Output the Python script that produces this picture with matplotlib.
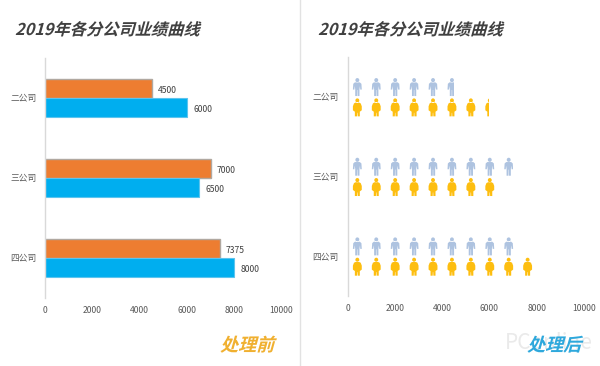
import matplotlib
matplotlib.use("Agg")
import math
import matplotlib.pyplot as plt
import matplotlib.patheffects as pe
from matplotlib.patches import PathPatch, Rectangle
from matplotlib.path import Path
from matplotlib.transforms import Affine2D

plt.rcParams['font.family'] = ['Noto Sans CJK SC', 'DejaVu Sans']

categories = ['二公司', '三公司', '四公司']
series_top = [4500, 7000, 7375]
series_bottom = [6000, 6500, 8000]
x_ticks = [0, 2000, 4000, 6000, 8000, 10000]
title_text = '2019年各分公司业绩曲线'
caption_left = '处理前'
caption_right = '处理后'
watermark = 'PConline'

W, H = 600, 366
ICON_UNIT = 800
ICON_W = 375
BAR_H = 0.235
TXT = '#595959'


class Skew(pe.AbstractPathEffect):
    def __init__(self, slant=0.28):
        super().__init__()
        self.slant = slant

    def draw_path(self, renderer, gc, tpath, affine, rgbFace):
        y0 = affine.to_values()[5]
        sk = Affine2D.from_values(1, 0, self.slant, 1, -self.slant * y0, 0)
        renderer.draw_path(gc, tpath, affine + sk, rgbFace)


def axes_px(x0, x1, y0, y1):
    return fig.add_axes([x0 / W, 1 - y1 / H, (x1 - x0) / W, (y1 - y0) / H])


def person(fat):
    unit = Path.unit_circle()
    head = Path(unit.vertices * [0.22, 0.115] + [0, 0.885], unit.codes)
    if fat:
        body = [(-0.28, 0), (-0.28, 0.26), (-0.40, 0.30), (-0.50, 0.34), (-0.50, 0.56),
                (-0.38, 0.72), (-0.18, 0.77), (0.18, 0.77), (0.38, 0.72), (0.50, 0.56),
                (0.50, 0.34), (0.40, 0.30), (0.28, 0.26), (0.28, 0), (0.04, 0),
                (0.02, 0.20), (-0.02, 0.20), (-0.04, 0), (-0.28, 0)]
    else:
        body = [(-0.24, 0), (-0.24, 0.38), (-0.30, 0.56), (-0.33, 0.36), (-0.50, 0.36),
                (-0.46, 0.68), (-0.28, 0.76), (0.28, 0.76), (0.46, 0.68), (0.50, 0.36),
                (0.33, 0.36), (0.30, 0.56), (0.24, 0.38), (0.24, 0), (0.03, 0),
                (0.02, 0.34), (-0.02, 0.34), (-0.03, 0), (-0.24, 0)]
    return Path.make_compound_path(head, Path(body, closed=True))


def style(ax, ytick_pad, xtick_pad):
    ax.set_xlim(0, 10000)
    ax.set_ylim(2.5, -0.5)
    ax.set_xticks(x_ticks)
    ax.set_yticks(range(len(categories)), categories)
    for s in ['top', 'right', 'bottom']:
        ax.spines[s].set_visible(False)
    ax.spines['left'].set_color('#D9D9D9')
    ax.spines['left'].set_linewidth(1.0)
    ax.tick_params(axis='x', length=0, labelsize=6.2, labelcolor=TXT, pad=xtick_pad)
    ax.tick_params(axis='y', length=0, labelsize=6.3, labelcolor=TXT, pad=ytick_pad)


def pictogram(ax, pos, value, color, fat, upper):
    clip = Rectangle((0, pos - BAR_H - 0.02), value, 2 * BAR_H + 0.04, transform=ax.transData)
    shape = person(fat)
    # feet of the upper row sit just above the category centre, the lower row one row below
    feet = pos - 0.01 if upper else pos + BAR_H + 0.01
    for i in range(math.ceil(value / ICON_UNIT)):
        cx = (i + 0.52) * ICON_UNIT
        tr = Affine2D().scale(ICON_W, -BAR_H * 0.96).translate(cx, feet) + ax.transData
        p = PathPatch(shape, facecolor=color, edgecolor='none', transform=tr)
        ax.add_patch(p)
        p.set_clip_path(clip)


fig = plt.figure(figsize=(W / 100, H / 100), dpi=100, facecolor='white')

# left panel
a1 = axes_px(45.3, 281.6, 58, 298)
style(a1, 6.5, 5.5)
positions = list(range(len(categories)))
a1.barh([p - BAR_H / 2 for p in positions], series_top, height=BAR_H, color='#ED7D31',
        edgecolor='#B0A8A0', linewidth=1.0)
a1.barh([p + BAR_H / 2 for p in positions], series_bottom, height=BAR_H, color='#00AEEF',
        edgecolor='#5CC4EE', linewidth=0.8)
for p, a, b in zip(positions, series_top, series_bottom):
    a1.annotate(str(a), (a, p - BAR_H / 2), xytext=(4.5, -1.2), textcoords='offset points',
                va='center', ha='left', fontsize=6.2, color='#404040')
    a1.annotate(str(b), (b, p + BAR_H / 2), xytext=(4.5, -1.2), textcoords='offset points',
                va='center', ha='left', fontsize=6.2, color='#404040')

# right panel
a2 = axes_px(347.5, 584, 57, 296)
style(a2, 6.5, 5.5)
for p, a, b in zip(positions, series_top, series_bottom):
    pictogram(a2, p, a, '#AEC3E0', False, True)
    pictogram(a2, p, b, '#FDBE10', True, False)

# divider
fig.add_artist(plt.Line2D([299.5 / W] * 2, [0, 1], color='#E2E2E2', lw=1.0))

# titles
for x in (15, 318):
    fig.text(x / W, 1 - 35 / H, title_text, fontsize=11.7, fontweight='bold', color='#404040',
             ha='left', va='baseline', path_effects=[Skew()])

fig.text(549 / W, 1 - 349 / H, watermark, fontsize=15, color='#EAEAEA', ha='center', va='baseline')
fig.text(220 / W, 1 - 351 / H, caption_left, fontsize=13, fontweight='bold', color='#F0B030',
         ha='left', va='baseline', path_effects=[Skew()])
fig.text(527 / W, 1 - 351 / H, caption_right, fontsize=13, fontweight='bold', color='#2EA8DC',
         ha='left', va='baseline', path_effects=[Skew()])

fig.savefig('out.png', dpi=100)
